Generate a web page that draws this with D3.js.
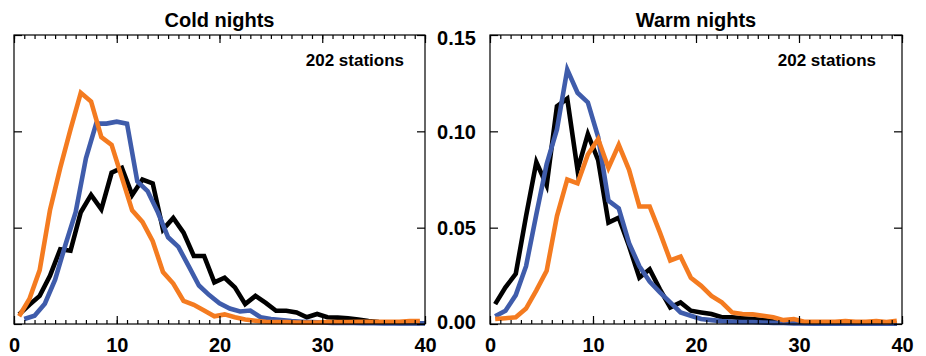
<!DOCTYPE html>
<html>
<head>
<meta charset="utf-8">
<script src="https://cdn.jsdelivr.net/npm/d3@7"></script>
<style>
  html, body { margin: 0; padding: 0; background: #fff; }
  svg { display: block; font-family: "Liberation Sans", Arial, Helvetica, sans-serif; }
</style>
</head>
<body>
<svg id="chart" width="926" height="356"></svg>
<script>
// ---------------- data ----------------
const panelTitles = ["Cold nights", "Warm nights"];
const stationNote = "202 stations";

// bin positions (days)
const binMid = [0.5,1.5,2.5,3.5,4.5,5.5,6.5,7.5,8.5,9.5,10.5,11.5,12.5,13.5,14.5,15.5,16.5,17.5,18.5,19.5,
                20.5,21.5,22.5,23.5,24.5,25.5,26.5,27.5,28.5,29.5,30.5,31.5,32.5,33.5,34.5,35.5,36.5,37.5,38.5,39.5];
const binEnd = [1,2,3,4,5,6,7,8,9,10,11,12,13,14,15,16,17,18,19,20,
                21,22,23,24,25,26,27,28,29,30,31,32,33,34,35,36,37,38,39,40];

// Cold nights
const coldBlack = [0.005,0.010,0.0146,0.025,0.0388,0.038,0.058,0.067,0.0595,0.0785,0.081,0.067,0.075,0.073,0.049,0.055,0.0474,0.0353,0.0353,0.0216,
                   0.024,0.019,0.0103,0.0146,0.011,0.0069,0.0069,0.006,0.0035,0.0052,0.0035,0.0033,0.003,0.0023,0.0015,0.001,0.0008,0.0005,0.0005,0.0005];
const coldBlue  = [0.0026,0.0043,0.0105,0.023,0.041,0.058,0.086,0.104,0.104,0.105,0.104,0.074,0.069,0.058,0.045,0.040,0.030,0.020,0.015,0.0108,
                   0.008,0.0065,0.007,0.0035,0.0026,0.002,0.0015,0.0012,0.001,0.0008,0.0005,0.0005,0.0005,0.0004,0.0004,0.0003,0.0003,0.0003,0.0003,0.0003];
const coldOrange= [0.004,0.013,0.028,0.059,0.081,0.101,0.120,0.1155,0.097,0.093,0.076,0.059,0.053,0.043,0.027,0.021,0.012,0.010,0.007,0.004,
                   0.005,0.0035,0.0023,0.0017,0.0012,0.001,0.001,0.0008,0.0008,0.0008,0.001,0.001,0.001,0.0012,0.0012,0.0012,0.0012,0.0012,0.0015,0.0015];

// Warm nights
const warmBlack = [0.0103,0.019,0.026,0.056,0.084,0.072,0.113,0.117,0.080,0.0985,0.085,0.0526,0.0552,0.0405,0.0241,0.0284,0.018,0.0086,0.0112,0.0069,
                   0.006,0.0052,0.0035,0.0035,0.003,0.0026,0.002,0.0015,0.001,0.0008,0.0005,0.0005,0.0005,0.0004,0.0004,0.0003,0.0003,0.0003,0.0003,0.0003];
const warmBlue  = [0.004,0.0069,0.015,0.030,0.057,0.083,0.101,0.132,0.120,0.115,0.097,0.064,0.060,0.042,0.030,0.022,0.0164,0.0112,0.006,0.0043,
                   0.0026,0.002,0.0015,0.0012,0.001,0.001,0.0008,0.0006,0.0005,0.0003,0.0003,0.0002,0.0002,0.0002,0.0002,0.0002,0.0002,0.0002,0.0002,0.0002];
const warmOrange= [0.0026,0.003,0.0035,0.008,0.0175,0.0276,0.056,0.075,0.073,0.088,0.096,0.081,0.093,0.080,0.061,0.061,0.0474,0.033,0.035,0.024,
                   0.0198,0.0146,0.0112,0.006,0.0052,0.005,0.0043,0.0035,0.002,0.0026,0.0012,0.0012,0.0012,0.0012,0.0015,0.0012,0.0012,0.0015,0.001,0.0017];

const xTicks = [0, 10, 20, 30, 40];
const yTicks = [0.00, 0.05, 0.10, 0.15];

const panels = [
  { title: panelTitles[0], yLabels: false, noteInset: 21, series: [
      { x: binMid, v: coldBlack,  color: "#000000" },
      { x: binEnd, v: coldBlue,   color: "#3f5cab" },
      { x: binMid, v: coldOrange, color: "#f47b20" } ] },
  { title: panelTitles[1], yLabels: true, noteInset: 26, series: [
      { x: binMid, v: warmBlack,  color: "#000000" },
      { x: binMid, v: warmBlue,   color: "#3f5cab" },
      { x: binMid, v: warmOrange, color: "#f47b20" } ] }
];

// ---------------- layout ----------------
const frames = [ { left: 14, right: 425 }, { left: 490, right: 902 } ];
const plotTop = 35, plotBottom = 324;
const svg = d3.select("#chart");

panels.forEach((p, i) => {
  const f = frames[i];
  const x = d3.scaleLinear().domain([0, 40]).range([f.left, f.right]);
  const y = d3.scaleLinear().domain([0, 0.15]).range([plotBottom, plotTop]);
  const g = svg.append("g");

  // lines
  const line = d3.line().x(d => x(d[0])).y(d => y(d[1]));
  p.series.forEach(s => {
    g.append("path")
      .datum(s.x.map((xx, k) => [xx, s.v[k]]))
      .attr("d", line)
      .attr("fill", "none")
      .attr("stroke", s.color)
      .attr("stroke-width", 4.6)
      .attr("stroke-linejoin", "miter")
      .attr("stroke-miterlimit", 6);
  });

  // frame
  g.append("rect")
    .attr("x", f.left).attr("y", plotTop)
    .attr("width", f.right - f.left).attr("height", plotBottom - plotTop)
    .attr("fill", "none").attr("stroke", "#000").attr("stroke-width", 1.2);

  const minor = d3.range(0, 41, 1);
  const axB = g.append("g").attr("transform", `translate(0,${plotBottom})`)
    .call(d3.axisBottom(x).tickValues(minor).tickSize(-4).tickFormat(""));
  const axBM = g.append("g").attr("transform", `translate(0,${plotBottom})`)
    .call(d3.axisBottom(x).tickValues(xTicks).tickSizeInner(-8).tickSizeOuter(0).tickPadding(14).tickFormat(d3.format("d")));
  const axT = g.append("g").attr("transform", `translate(0,${plotTop})`)
    .call(d3.axisTop(x).tickValues(minor).tickSize(-4).tickFormat(""));
  const axTM = g.append("g").attr("transform", `translate(0,${plotTop})`)
    .call(d3.axisTop(x).tickValues(xTicks).tickSize(-8).tickFormat(""));
  const axL = g.append("g").attr("transform", `translate(${f.left},0)`)
    .call(d3.axisLeft(y).tickValues(yTicks).tickSizeInner(-8).tickSizeOuter(0).tickPadding(14)
      .tickFormat(p.yLabels ? d3.format(".2f") : ""));
  const axR = g.append("g").attr("transform", `translate(${f.right},0)`)
    .call(d3.axisRight(y).tickValues(yTicks).tickSizeInner(-8).tickSizeOuter(0).tickFormat(""));

  [axB, axBM, axT, axTM, axL, axR].forEach(a => {
    a.select(".domain").remove();
    a.selectAll("line").attr("stroke", "#000").attr("stroke-width", 1.2);
    a.selectAll("text").attr("fill", "#000").style("font-size", "20px").style("font-weight", "bold")
      .style("font-family", '"Liberation Sans", Arial, Helvetica, sans-serif');
  });
  axL.selectAll(".tick text")
    .attr("dy", d => d === 0.15 ? "0.46em" : d === 0 ? "0.2em" : "0.35em");

  g.append("text")
    .attr("x", (f.left + f.right) / 2).attr("y", 27)
    .attr("text-anchor", "middle")
    .style("font-size", "20px").style("font-weight", "bold")
    .text(p.title);

  g.append("text")
    .attr("x", f.right - p.noteInset).attr("y", 66)
    .attr("text-anchor", "end")
    .style("font-size", "17px").style("font-weight", "bold")
    .text(stationNote);
});
</script>
</body>
</html>
